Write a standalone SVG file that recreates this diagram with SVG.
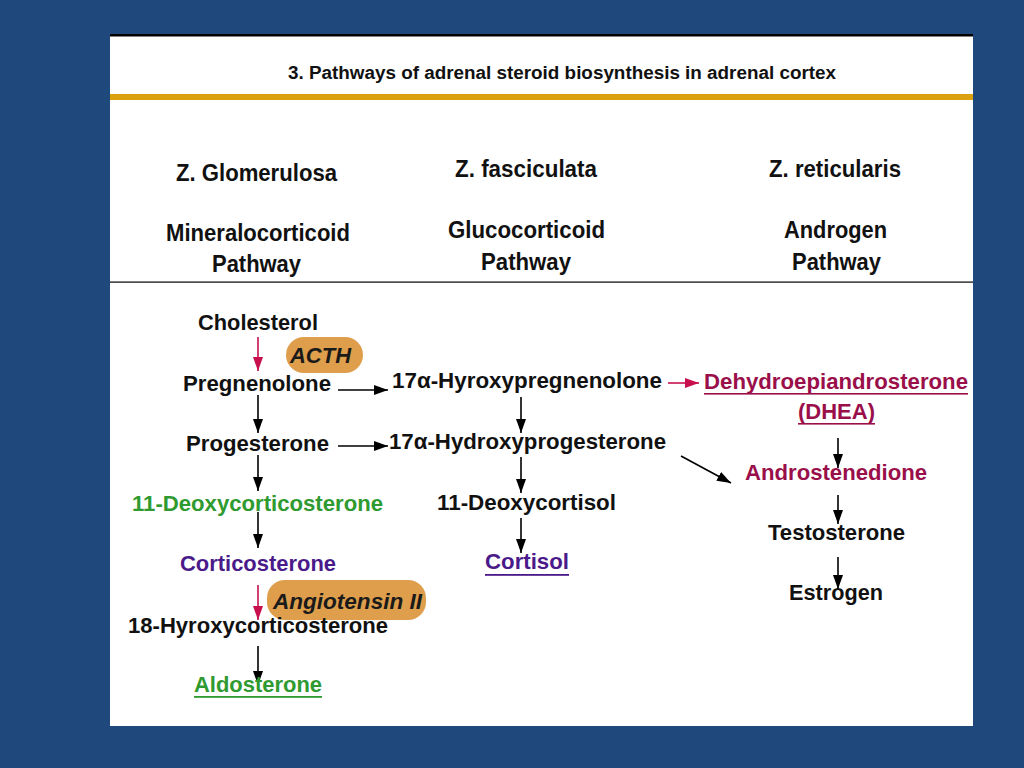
<svg xmlns="http://www.w3.org/2000/svg" width="1024" height="768" viewBox="0 0 1024 768">
<defs>
<style>
text{font-family:"Liberation Sans",Arial,sans-serif;font-weight:bold;}
.t{font-size:18px;fill:#111;}
.h{font-size:23px;fill:#111;text-anchor:middle;}
.n{font-size:22px;fill:#111;}
.g{fill:#2F9A2F;}
.p{fill:#4B1A8A;}
.r{fill:#9A0F4A;}
.i{font-style:italic;fill:#1a1a1a;}
.pill{fill:#DE9E4C;}
.ab{stroke:#000;stroke-width:1.6;fill:none;}
.ar{stroke:#C8104F;stroke-width:1.6;fill:none;}
</style>
<marker id="hb" viewBox="0 0 14 10" refX="14" refY="5" markerWidth="14" markerHeight="10" markerUnits="userSpaceOnUse" orient="auto"><path d="M0,0L14,5L0,10z" fill="#000"/></marker>
<marker id="hr" viewBox="0 0 14 10" refX="14" refY="5" markerWidth="14" markerHeight="10" markerUnits="userSpaceOnUse" orient="auto"><path d="M0,0L14,5L0,10z" fill="#C8104F"/></marker>
</defs>
<rect width="1024" height="768" fill="#1F497D"/>
<rect x="110" y="34" width="863" height="692" fill="#fff"/>
<rect x="110" y="34" width="863" height="2.5" fill="#000"/>
<rect x="110" y="94" width="863" height="6" fill="#DBA10F"/>
<rect x="110" y="281.5" width="863" height="1.2" fill="#000"/>

<g id="title"><text class="t" x="288" y="79" textLength="548" lengthAdjust="spacingAndGlyphs">3. Pathways of adrenal steroid biosynthesis in adrenal cortex</text></g>

<g id="col-glomerulosa">
<text class="h" x="256.5" y="181" textLength="161" lengthAdjust="spacingAndGlyphs">Z. Glomerulosa</text>
<text class="h" x="258" y="241" textLength="184" lengthAdjust="spacingAndGlyphs">Mineralocorticoid</text>
<text class="h" x="256.5" y="272" textLength="89" lengthAdjust="spacingAndGlyphs">Pathway</text>
</g>
<g id="col-fasciculata">
<text class="h" x="526" y="177" textLength="142" lengthAdjust="spacingAndGlyphs">Z. fasciculata</text>
<text class="h" x="526.5" y="238" textLength="157" lengthAdjust="spacingAndGlyphs">Glucocorticoid</text>
<text class="h" x="526" y="270" textLength="90" lengthAdjust="spacingAndGlyphs">Pathway</text>
</g>
<g id="col-reticularis">
<text class="h" x="835" y="177" textLength="132" lengthAdjust="spacingAndGlyphs">Z. reticularis</text>
<text class="h" x="835.5" y="238" textLength="103" lengthAdjust="spacingAndGlyphs">Androgen</text>
<text class="h" x="836.5" y="270" textLength="89" lengthAdjust="spacingAndGlyphs">Pathway</text>
</g>

<g id="connectors">
<line class="ar" x1="258" y1="337" x2="258" y2="371" marker-end="url(#hr)"/>
<line class="ab" x1="338" y1="390" x2="388" y2="390" marker-end="url(#hb)"/>
<line class="ar" x1="668" y1="383" x2="699" y2="383" marker-end="url(#hr)"/>
<line class="ab" x1="258" y1="395" x2="258" y2="433" marker-end="url(#hb)"/>
<line class="ab" x1="338" y1="446" x2="388" y2="446" marker-end="url(#hb)"/>
<line class="ab" x1="521" y1="397" x2="521" y2="433" marker-end="url(#hb)"/>
<line class="ab" x1="681" y1="456" x2="731" y2="483" marker-end="url(#hb)"/>
<line class="ab" x1="838" y1="438" x2="838" y2="468" marker-end="url(#hb)"/>
<line class="ab" x1="258" y1="455" x2="258" y2="491" marker-end="url(#hb)"/>
<line class="ab" x1="521" y1="457" x2="521" y2="493" marker-end="url(#hb)"/>
<line class="ab" x1="258" y1="512" x2="258" y2="548" marker-end="url(#hb)"/>
<line class="ab" x1="521" y1="518" x2="521" y2="553" marker-end="url(#hb)"/>
<line class="ab" x1="838" y1="495" x2="838" y2="524" marker-end="url(#hb)"/>
<line class="ab" x1="838" y1="557" x2="838" y2="589" marker-end="url(#hb)"/>
<line class="ar" x1="258" y1="585" x2="258" y2="620" marker-end="url(#hr)"/>
<line class="ab" x1="258" y1="646" x2="258" y2="685" marker-end="url(#hb)"/>
</g>

<g id="acth"><rect class="pill" x="286" y="337" width="77" height="36" rx="18"/><text class="n i" x="290" y="363" textLength="61" lengthAdjust="spacingAndGlyphs">ACTH</text></g>
<g id="angiotensin"><rect class="pill" x="267" y="580" width="159" height="40" rx="18"/><text class="n i" x="273" y="609" textLength="149" lengthAdjust="spacingAndGlyphs">Angiotensin II</text></g>

<g id="cholesterol"><text class="n" x="198" y="330" textLength="120" lengthAdjust="spacingAndGlyphs">Cholesterol</text></g>
<g id="pregnenolone"><text class="n" x="183" y="391" textLength="148" lengthAdjust="spacingAndGlyphs">Pregnenolone</text></g>
<g id="hydroxypregnenolone"><text class="n" x="392" y="388" textLength="270" lengthAdjust="spacingAndGlyphs">17α-Hyroxypregnenolone</text></g>
<g id="dhea">
<text class="n r" x="704" y="389" textLength="264" lengthAdjust="spacingAndGlyphs">Dehydroepiandrosterone</text>
<rect x="704" y="393" width="264" height="1.6" fill="#9A0F4A"/>
<text class="n r" x="798" y="419" textLength="77" lengthAdjust="spacingAndGlyphs">(DHEA)</text>
<rect x="798" y="423" width="77" height="1.6" fill="#9A0F4A"/>
</g>
<g id="progesterone"><text class="n" x="186" y="451" textLength="143" lengthAdjust="spacingAndGlyphs">Progesterone</text></g>
<g id="hydroxyprogesterone"><text class="n" x="389" y="449" textLength="277" lengthAdjust="spacingAndGlyphs">17α-Hydroxyprogesterone</text></g>
<g id="androstenedione"><text class="n r" x="745" y="480" textLength="182" lengthAdjust="spacingAndGlyphs">Androstenedione</text></g>
<g id="deoxycorticosterone"><text class="n g" x="132" y="511" textLength="251" lengthAdjust="spacingAndGlyphs">11-Deoxycorticosterone</text></g>
<g id="deoxycortisol"><text class="n" x="437" y="510" textLength="179" lengthAdjust="spacingAndGlyphs">11-Deoxycortisol</text></g>
<g id="testosterone"><text class="n" x="768" y="540" textLength="137" lengthAdjust="spacingAndGlyphs">Testosterone</text></g>
<g id="corticosterone"><text class="n p" x="180" y="571" textLength="156" lengthAdjust="spacingAndGlyphs">Corticosterone</text></g>
<g id="cortisol">
<text class="n p" x="485" y="569" textLength="84" lengthAdjust="spacingAndGlyphs">Cortisol</text>
<rect x="485" y="574" width="84" height="1.8" fill="#4B1A8A"/>
</g>
<g id="estrogen"><text class="n" x="789" y="600" textLength="94" lengthAdjust="spacingAndGlyphs">Estrogen</text></g>
<g id="hydroxycorticosterone"><text class="n" x="128" y="633" textLength="260" lengthAdjust="spacingAndGlyphs">18-Hyroxycorticosterone</text></g>
<g id="aldosterone">
<text class="n g" x="194" y="692" textLength="128" lengthAdjust="spacingAndGlyphs">Aldosterone</text>
<rect x="194" y="696" width="128" height="1.8" fill="#2F9A2F"/>
</g>
</svg>
